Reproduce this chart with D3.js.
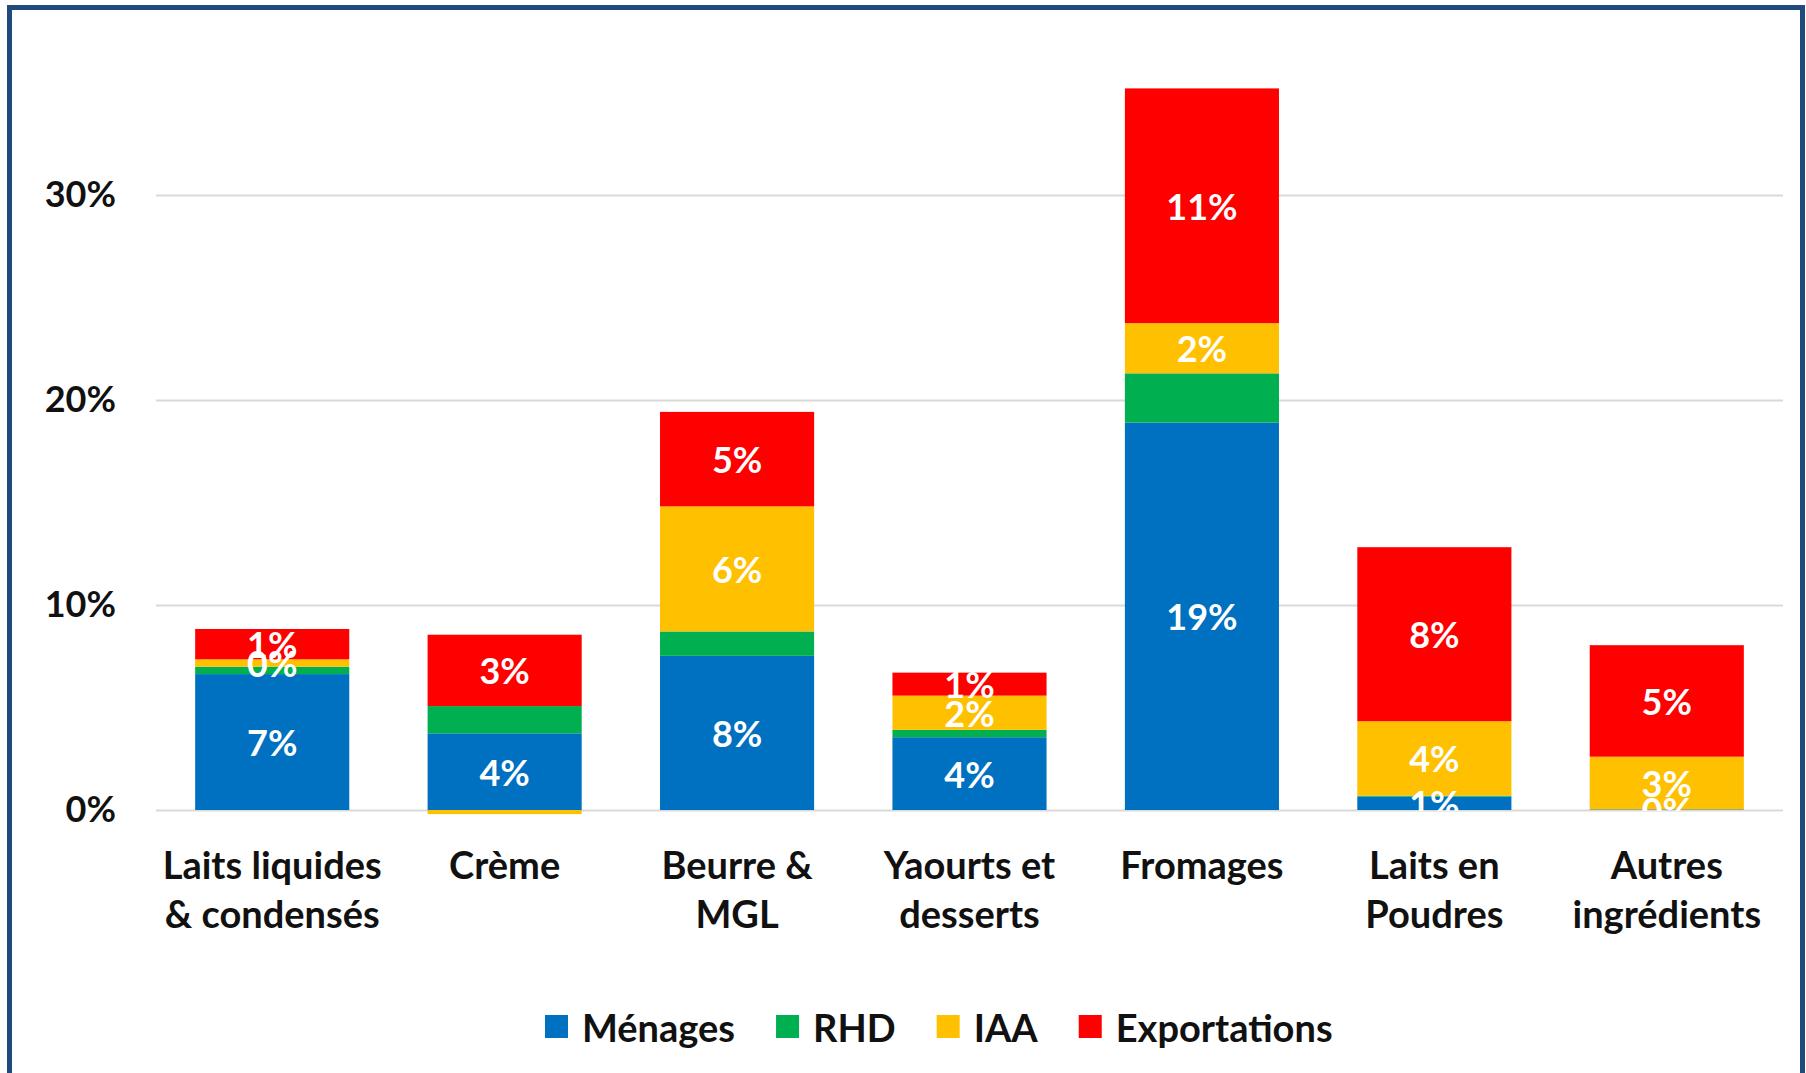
<!DOCTYPE html>
<html>
<head>
<meta charset="utf-8">
<script src="https://cdn.jsdelivr.net/npm/d3@7"></script>
<style>
  html, body { margin: 0; padding: 0; background: #fff; }
  svg { display: block; font-family: Lato, "Open Sans", sans-serif; font-weight: 700; }
</style>
</head>
<body>
<svg id="chart" width="1806" height="1073"></svg>
<script>
// ---- Data ----
const categories = ["Laits liquides & condensés", "Crème", "Beurre & MGL", "Yaourts et desserts", "Fromages", "Laits en Poudres", "Autres ingrédients"];
const categoryLines = [["Laits liquides", "& condensés"], ["Crème"], ["Beurre &", "MGL"], ["Yaourts et", "desserts"], ["Fromages"], ["Laits en", "Poudres"], ["Autres", "ingrédients"]];
const seriesNames = ["Ménages", "RHD", "IAA", "Exportations"];
const menages      = [0.0663, 0.0374, 0.0752, 0.0355, 0.1890, 0.0065, 0.0003];
const rhd          = [0.0036, 0.0133, 0.0119, 0.0036, 0.0240, 0.0005, 0.0000];
const iaa          = [0.0036, -0.0020, 0.0610, 0.0167, 0.0245, 0.0363, 0.0257];
const exportations = [0.0148, 0.0348, 0.0461, 0.0112, 0.1145, 0.0849, 0.0544];
const yTicks = [0, 0.1, 0.2, 0.3];
const labelledSeries = ["Ménages", "IAA", "Exportations"];

const colors = { "Ménages": "#0070C0", "RHD": "#00B050", "IAA": "#FFC000", "Exportations": "#FF0000" };

// table for the stack
const seriesValues = { "Ménages": menages, "RHD": rhd, "IAA": iaa, "Exportations": exportations };
const rows = categories.map((c, i) => {
  const r = { category: c };
  seriesNames.forEach(s => r[s] = seriesValues[s][i]);
  return r;
});

const svg = d3.select("#chart");
const W = 1806, H = 1073;
const plotLeft = 156, plotRight = 1783, plotBottom = 810;

svg.append("rect").attr("width", W).attr("height", H).attr("fill", "#fff");

const x = d3.scaleBand().domain(categories).range([plotLeft, plotRight]).paddingInner(0.337).paddingOuter(0.1685);
const y = d3.scaleLinear().domain([0, 0.3]).range([plotBottom, 195]);

// gridlines + y axis
const yAxis = svg.append("g")
  .attr("transform", `translate(${plotLeft},0)`)
  .call(d3.axisLeft(y).tickValues(yTicks).tickSize(-(plotRight - plotLeft)).tickPadding(40).tickFormat(d3.format(".0%")));
yAxis.select(".domain").remove();
yAxis.selectAll(".tick line").attr("stroke", "#d9d9d9").attr("stroke-width", 2);
yAxis.selectAll(".tick text").attr("font-size", 36).attr("font-family", "Lato").attr("font-weight", 700).attr("fill", "#111");

// stacked bars
const stack = d3.stack().keys(seriesNames).offset(d3.stackOffsetDiverging);
const stacked = stack(rows);

svg.append("g").selectAll("g").data(stacked).join("g")
  .attr("fill", d => colors[d.key])
  .selectAll("rect").data(d => d).join("rect")
  .attr("x", d => x(d.data.category))
  .attr("width", x.bandwidth())
  .attr("y", d => y(Math.max(d[0], d[1])))
  .attr("height", d => Math.abs(y(d[0]) - y(d[1])));

// data labels (clipped to plot area)
svg.append("clipPath").attr("id", "plotclip")
  .append("rect").attr("x", 0).attr("y", 0).attr("width", W).attr("height", plotBottom + 1);
const fmt = d3.format(".0%");
const lbl = svg.append("g").attr("clip-path", "url(#plotclip)");
stacked.filter(s => labelledSeries.includes(s.key)).forEach(s => {
  lbl.selectAll(null).data(s.filter(d => d.data[s.key] > 0)).join("text")
    .attr("x", d => x(d.data.category) + x.bandwidth() / 2)
    .attr("y", d => (y(d[0]) + y(d[1])) / 2)
    .attr("text-anchor", "middle")
    .attr("dominant-baseline", "central")
    .attr("font-size", 36)
    .attr("fill", "#fff")
    .text(d => fmt(d.data[s.key]));
});

// category axis
const xAxis = svg.append("g")
  .attr("transform", `translate(0,${plotBottom})`)
  .call(d3.axisBottom(x).tickSize(0).tickFormat(""));
xAxis.select(".domain").remove();
xAxis.selectAll(".tick").each(function(d, i) {
  const t = d3.select(this).append("text")
    .attr("text-anchor", "middle")
    .attr("font-size", 38)
    .attr("font-family", "Lato")
    .attr("font-weight", 700)
    .attr("fill", "#111");
  categoryLines[i].forEach((line, j) => {
    t.append("tspan").attr("x", 0).attr("y", 54 + j * 49).attr("dominant-baseline", "central").text(line);
  });
});

// legend
const legend = svg.append("g");
let lx = 545;
seriesNames.forEach(s => {
  legend.append("rect").attr("x", lx).attr("y", 1015).attr("width", 23).attr("height", 23).attr("fill", colors[s]);
  const t = legend.append("text").attr("x", lx + 37).attr("y", 1027)
    .attr("dominant-baseline", "central").attr("font-size", 38).attr("fill", "#111").text(s);
  lx += 37 + t.node().getComputedTextLength() + 41;
});

// frame
svg.append("rect").attr("x", 9.5).attr("y", 7.5).attr("width", 1793).attr("height", 1200)
  .attr("fill", "none").attr("stroke", "#204A7C").attr("stroke-width", 5);
</script>
</body>
</html>
